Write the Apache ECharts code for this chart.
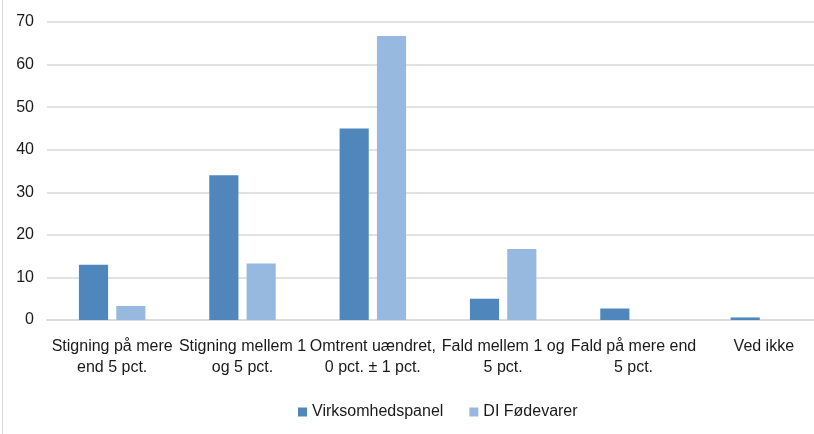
<!DOCTYPE html>
<html>
<head>
<meta charset="utf-8">
<script src="https://cdn.jsdelivr.net/npm/echarts@6/dist/echarts.min.js"></script>
<style>
  html, body { margin: 0; padding: 0; background: #fff; overflow: hidden; }
  #wrap { position: relative; width: 814px; height: 434px; overflow: hidden; }
  /* plotområdet fortsætter ud over billedkanten, derfor et bredere lærred */
  #chart { width: 829px; height: 434px; position: absolute; left: 0; top: 0; }
  #frame { position: absolute; left: 2px; top: 0; width: 1px; height: 434px; background: #d9d9d9; }
</style>
</head>
<body>
<div id="wrap">
  <div id="chart"></div>
  <div id="frame"></div>
</div>
<script>
// kategorier og værdier
var categories = [
  "Stigning på mere\nend 5 pct.",
  "Stigning mellem 1\nog 5 pct.",
  "Omtrent uændret,\n0 pct. ± 1 pct.",
  "Fald mellem 1 og\n5 pct.",
  "Fald på mere end\n5 pct.",
  "Ved ikke"
];
var virksomhedspanel = [13, 34, 45, 5, 2.7, 0.6];
var diFoedevarer = [3.3, 13.3, 66.7, 16.7, 0, 0];
var yTicks = [0, 10, 20, 30, 40, 50, 60, 70];

var myChart = echarts.init(document.getElementById("chart"));
var font = "Liberation Sans, Arial, sans-serif";

var option = {
  animation: false,
  color: ["#4f87bd", "#97b8df"],
  textStyle: { fontFamily: font },
  grid: {
    top: 22,
    bottom: 114,
    left: 47,
    right: 0
  },
  legend: {
    data: ["Virksomhedspanel", "DI Fødevarer"],
    top: 399,
    left: 293,
    icon: "rect",
    itemWidth: 9,
    itemHeight: 9,
    itemGap: 26,
    textStyle: { fontSize: 16, color: "#1a1a1a", fontFamily: font }
  },
  xAxis: {
    type: "category",
    data: categories,
    axisLine: { lineStyle: { color: "#d9d9d9", width: 1.5 } },
    axisTick: { show: false },
    axisLabel: {
      interval: 0,
      fontSize: 16,
      color: "#1a1a1a",
      lineHeight: 21,
      margin: 16,
      fontFamily: font
    }
  },
  yAxis: {
    type: "value",
    min: yTicks[0],
    max: yTicks[yTicks.length - 1],
    interval: 10,
    axisLine: { show: false },
    axisTick: { show: false },
    splitLine: { lineStyle: { color: "#d9d9d9", width: 1.5 } },
    axisLabel: {
      fontSize: 16,
      color: "#1a1a1a",
      margin: 13,
      fontFamily: font
    }
  },
  series: [
    {
      name: "Virksomhedspanel",
      type: "bar",
      data: virksomhedspanel,
      barGap: "28%",
      barCategoryGap: "49%"
    },
    {
      name: "DI Fødevarer",
      type: "bar",
      data: diFoedevarer
    }
  ]
};

myChart.setOption(option);
</script>
</body>
</html>
